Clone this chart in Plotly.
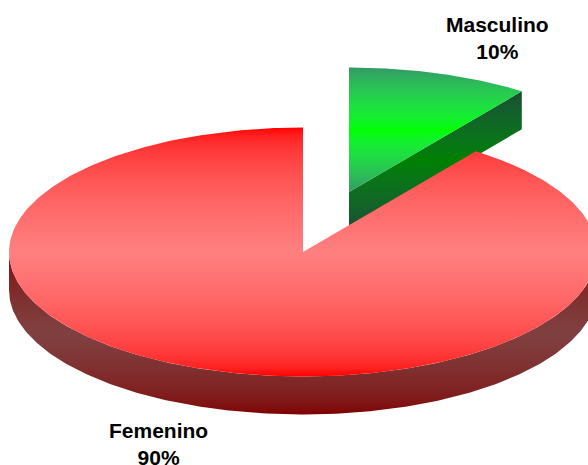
import numpy as np
import plotly.graph_objects as go

categories = ["Femenino", "Masculino"]
values = [90, 10]

face_edge = ["#FF0000", "#339966"]
face_mid = ["#FF8080", "#00FF00"]
side_edge = ["#800000", "#194D33"]
side_mid = ["#804040", "#008000"]

W, H = 588, 465
CX, CY = 303, 252
RX, RY = 294, 124.5
DEPTH = 38
EXPLODE = (46, -60)  # offset of the small slice


def rim(theta, ox=0, oy=0):
    return CX + ox + RX * np.sin(theta), CY + oy - RY * np.cos(theta)


def to_linear(c):
    c = c / 255.0
    return np.where(c <= 0.04045, c / 12.92, ((c + 0.055) / 1.055) ** 2.4)


def to_srgb(c):
    return 255 * np.where(c <= 0.0031308, c * 12.92, 1.055 * c ** (1 / 2.4) - 0.055)


def rgb(h):
    return np.array([int(h[i:i + 2], 16) for i in (1, 3, 5)], dtype=float)


def scale(edge, mid, n=16):
    # edge -> mid -> edge, blended in linear light as the reference's shading is
    a, b = to_linear(rgb(edge)), to_linear(rgb(mid))
    stops = []
    for i in range(2 * n + 1):
        u = 1 - abs(i / n - 1)
        r, g, bl = to_srgb(a + (b - a) * u)
        stops.append([i / (2 * n), f"rgb({r:.0f},{g:.0f},{bl:.0f})"])
    return stops


def patch(x, y, edge, mid, start, stop):
    return go.Scatter(
        x=x, y=y, mode="lines", fill="toself", line=dict(width=0),
        fillcolor=mid,
        fillgradient=dict(type="vertical", start=start, stop=stop,
                          colorscale=scale(edge, mid)),
        hoverinfo="skip", showlegend=False,
    )


fem_share = values[1] / sum(values) * 2 * np.pi  # angle of the gap, measured from 12 o'clock
ox, oy = EXPLODE
fig = go.Figure()

# small slice: cut face, then top face
rx_e, ry_e = rim(fem_share, ox, oy)
cxm, cym = CX + ox, CY + oy
fig.add_trace(patch([cxm, rx_e, rx_e, cxm, cxm],
                    [cym, ry_e, ry_e + DEPTH, cym + DEPTH, cym],
                    side_edge[1], side_mid[1], ry_e, cym + DEPTH))
t = np.linspace(0, fem_share, 80)
ax, ay = rim(t, ox, oy)
fig.add_trace(patch(np.r_[cxm, ax, cxm], np.r_[cym, ay, cym],
                    face_edge[1], face_mid[1], cym - RY, cym))

# large slice: outer wall, then top face
t = np.linspace(np.pi / 2, 3 * np.pi / 2, 240)
ax, ay = rim(t)
fig.add_trace(patch(np.r_[ax, ax[::-1]], np.r_[ay, ay[::-1] + DEPTH],
                    side_edge[0], side_mid[0], CY, CY + RY + DEPTH))
t = np.linspace(fem_share, 2 * np.pi, 400)
ax, ay = rim(t)
fig.add_trace(patch(np.r_[CX, ax, CX], np.r_[CY, ay, CY],
                    face_edge[0], face_mid[0], CY - RY, CY + RY))

label_pos = [(158, 444), (497, 38)]
for c, v, (lx, ly) in zip(categories, values, label_pos):
    fig.add_annotation(x=lx, y=ly, text=f"<b>{c}<br>{v}%</b>", showarrow=False,
                       xanchor="center", yanchor="middle",
                       font=dict(family="Liberation Sans", size=21, color="#000000"))

fig.update_layout(
    width=W, height=H, margin=dict(l=0, r=0, t=0, b=0),
    paper_bgcolor="white", plot_bgcolor="white",
    xaxis=dict(range=[0, W], visible=False, fixedrange=True),
    yaxis=dict(range=[H, 0], visible=False, fixedrange=True),
)
fig.write_html("out.html", config={"displayModeBar": False},
               post_script="document.body.style.margin='0';")
